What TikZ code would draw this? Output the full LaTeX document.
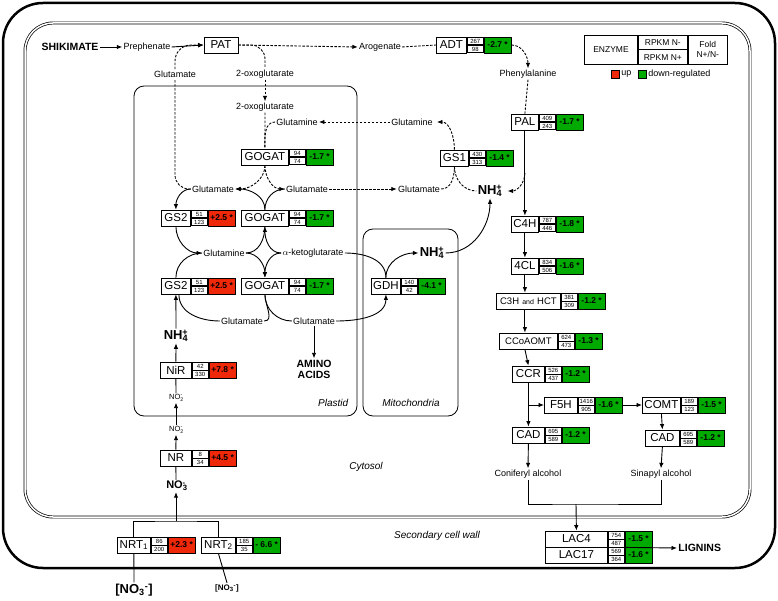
\documentclass[tikz,border=0pt]{standalone}
\usepackage{fontspec}
\setmainfont{Liberation Sans}
\usetikzlibrary{calc,arrows.meta}
\definecolor{up}{RGB}{240,40,10}
\definecolor{dn}{RGB}{0,170,0}
\newcommand\ionx[2]{\textsubscript{#1}\kern-0.45em\textsuperscript{#2}}
\tikzset{
 lbl/.style={font=\fontsize{9}{10}\selectfont, inner sep=1pt},
 big/.style={font=\bfseries\fontsize{13}{14}\selectfont, inner sep=1pt},
 ename/.style={draw, thick, minimum height=16pt, inner sep=0pt, font=\fontsize{11.5}{12}\selectfont},
 numc/.style={draw, minimum height=8pt, inner sep=0pt, font=\fontsize{6}{6}\selectfont},
 foldc/.style={draw, thick, minimum height=16pt, minimum width=27pt, inner sep=0pt, font=\bfseries\fontsize{8.5}{9}\selectfont},
 cx/.style={-{Latex[length=5.5pt,width=4.5pt]}},
 every path/.style={line width=0.9pt},
 dsh/.style={dashed, dash pattern=on 2.5pt off 1.5pt},
 comp/.style={thick, rounded corners=10pt},
 ital/.style={font=\itshape\fontsize{10}{11}\selectfont}
}
\newcommand\enz[9]{%
 \node[ename, minimum width=#4pt, anchor=west] (#1) at (#2,#3) {#5};
 \node[numc, minimum width=16pt, anchor=north west] (#1-a) at (#1.north east) {#6};
 \node[numc, minimum width=16pt, anchor=south west] (#1-b) at (#1.south east) {#7};
 \node[foldc, fill=#9, anchor=north west] (#1-f) at (#1-a.north east) {#8};
}
\begin{document}
\begin{tikzpicture}[x=1pt,y=-1pt]
\useasboundingbox (0,0) rectangle (778,601);
% frames
\draw[line width=2.5pt, rounded corners=40pt] (3,3) rectangle (775,568);
\draw[double distance=1.5pt, line width=0.7pt, rounded corners=28pt] (25,23) rectangle (750,517);
\draw[comp] (134,86) rectangle (357,416);
\draw[comp] (363,229) rectangle (458,416);
\node[ital, anchor=east] (tpl) at (352,403) {Plastid};
\node[ital] (tmi) at (411,403) {Mitochondria};
\node[ital] (tcy) at (366,467) {Cytosol};
\node[ital] (tsw) at (437,536) {Secondary cell wall};
% legend
\node[draw, minimum width=53pt, minimum height=29pt, inner sep=0pt, font=\fontsize{8.5}{9}\selectfont, anchor=north west] (le) at (584,35) {ENZYME};
\node[draw, minimum width=49pt, minimum height=14.5pt, inner sep=0pt, font=\fontsize{8.5}{9}\selectfont, anchor=north west] (l1) at (le.north east) {RPKM N-};
\node[draw, minimum width=49pt, minimum height=14.5pt, inner sep=0pt, font=\fontsize{8.5}{9}\selectfont, anchor=south west] (l2) at (le.south east) {RPKM N+};
\node[draw, minimum width=39pt, minimum height=29pt, inner sep=0pt, font=\fontsize{8.5}{10}\selectfont, align=center, anchor=north west] (l3) at (l1.north east) {Fold\\N+/N-};
\node[draw, fill=up, minimum size=8pt, inner sep=0pt] (lr) at (615.5,74.5) {};
\node[lbl, anchor=west] (lu) at (lr.east) {up};
\node[draw, fill=dn, minimum size=8pt, inner sep=0pt] (lg) at (642.5,74.5) {};
\node[lbl, anchor=west] (ld) at (lg.east) {down-regulated};
% labels
\node[font=\bfseries\fontsize{10.5}{11}\selectfont, inner sep=1pt] (shk) at (70,47) {SHIKIMATE};
\node[lbl] (pre) at (147,47) {Prephenate};
\node[draw, thick, minimum width=34pt, minimum height=16pt, inner sep=0pt, font=\fontsize{11.5}{12}\selectfont] (pat) at (221,45) {PAT};
\node[lbl] (arog) at (380,47) {Arogenate};
\node[lbl] (glt) at (175,74) {Glutamate};
\node[lbl] (ox1) at (265,74) {2-oxoglutarate};
\node[lbl] (ox2) at (265,107) {2-oxoglutarate};
\node[lbl] (phe) at (528,74) {Phenylalanine};
\node[lbl] (gln1) at (297,122) {Glutamine};
\node[lbl] (gln2) at (412,122) {Glutamine};
\node[lbl] (glu1) at (213,189) {Glutamate};
\node[lbl] (glu2) at (307,189) {Glutamate};
\node[lbl] (glu3) at (419,189) {Glutamate};
\node[big] (nh) at (490,191) {NH\ionx{4}{+}};
\node[lbl] (gln) at (224,253) {Glutamine};
\node[lbl] (ak) at (313,253) {$\alpha$-ketoglutarate};
\node[big] (nhm) at (432,253) {NH\ionx{4}{+}};
\node[lbl] (glu4) at (242,321) {Glutamate};
\node[lbl] (glu5) at (314,321) {Glutamate};
\node[font=\bfseries\fontsize{10.5}{11}\selectfont, align=center, inner sep=1pt] (aa) at (314,369) {AMINO\\ACIDS};
\node[big] (nhl) at (176,336) {NH\ionx{4}{+}};
\node[font=\fontsize{7.5}{8}\selectfont, inner sep=1pt] (no2a) at (176,398) {NO\ionx{2}{-}};
\node[font=\fontsize{7.5}{8}\selectfont, inner sep=1pt] (no2b) at (176,430) {NO\ionx{2}{-}};
\node[font=\bfseries\fontsize{11}{12}\selectfont, inner sep=1pt] (no3) at (176,486) {NO\ionx{3}{-}};
\node[font=\bfseries\fontsize{13}{14}\selectfont, inner sep=1pt] (nin1) at (134,590) {[NO\textsubscript{3}\textsuperscript{-}]};
\node[font=\bfseries\fontsize{8}{9}\selectfont, inner sep=1pt] (nin2) at (227,588) {[NO\textsubscript{3}\textsuperscript{-}]};
\node[lbl] (con) at (528,474) {Coniferyl alcohol};
\node[lbl] (sin) at (661,474) {Sinapyl alcohol};
\node[font=\bfseries\fontsize{10.5}{11}\selectfont, inner sep=1pt, anchor=west] (lig) at (677,548) {LIGNINS};
% enzymes
\enz{adt}{436}{45}{30}{ADT}{267}{98}{-2.7 *}{dn}
\enz{pal}{511}{122}{27}{PAL}{409}{243}{-1.7 *}{dn}
\enz{gs1}{440}{158}{28}{GS1}{430}{313}{-1.4 *}{dn}
\enz{c4h}{511}{224}{27}{C4H}{787}{446}{-1.8 *}{dn}
\enz{fcl}{511}{266}{27}{4CL}{834}{506}{-1.6 *}{dn}
\enz{c3h}{496}{301}{64}{{\fontsize{9.5}{10}\selectfont C3H} {\fontsize{7}{8}\selectfont and} {\fontsize{9.5}{10}\selectfont HCT}}{381}{309}{-1.2 *}{dn}
\enz{cco}{499}{341}{58}{{\fontsize{9.5}{10}\selectfont CCoAOMT}}{624}{473}{-1.3 *}{dn}
\enz{ccr}{512}{374}{32}{CCR}{526}{437}{-1.2 *}{dn}
\enz{f5h}{544}{405}{33}{F5H}{1416}{905}{-1.6 *}{dn}
\enz{comt}{642}{405}{38}{COMT}{189}{123}{-1.5 *}{dn}
\enz{cada}{512}{435}{32}{CAD}{695}{589}{-1.2 *}{dn}
\enz{cadb}{645}{438}{34}{CAD}{695}{589}{-1.2 *}{dn}
\enz{laca}{545}{539}{62}{LAC4}{754}{487}{-1.5 *}{dn}
\enz{lacb}{545}{555}{62}{LAC17}{569}{364}{-1.6 *}{dn}
\enz{gone}{241}{157}{47}{GOGAT}{94}{74}{-1.7 *}{dn}
\enz{gtwo}{241}{218}{47}{GOGAT}{94}{74}{-1.7 *}{dn}
\enz{gthr}{241}{286}{47}{GOGAT}{94}{74}{-1.7 *}{dn}
\enz{gsa}{161}{218}{29}{GS2}{51}{123}{+2.5 *}{up}
\enz{gsb}{161}{286}{29}{GS2}{51}{123}{+2.5 *}{up}
\enz{gdh}{371}{286}{29}{GDH}{140}{42}{-4.1 *}{dn}
\enz{nir}{160}{370}{31}{NiR}{42}{330}{+7.8 *}{up}
\enz{nr}{160}{458}{31}{NR}{8}{34}{+4.5 *}{up}
\enz{nrta}{117}{545}{33}{NRT\textsubscript{1}}{86}{200}{+2.3 *}{up}
\enz{nrtb}{201}{545}{34}{NRT\textsubscript{2}}{185}{35}{- 6.6 *}{dn}
\coordinate (jn) at (176,521);
\coordinate (jl) at (576,504);
% connectors
\draw[cx] (shk.east) -- (pre.west);
\draw[cx] (pre.east) -- (pat.west);
\draw[cx,dsh] (pat.east) -- (arog.west);
\draw[dsh] (arog.east) -- (adt.west);
\draw[cx,dsh] (adt-f.east) to[out=0,in=90] (phe.north);
\draw[dsh] (phe.south) -- (pal.north);
\draw[dsh, rounded corners=14pt] (glu1.west) -| (glt.south);
\draw[cx, dsh, rounded corners=16pt] (glt.north) |- (pat.west);
\draw[dsh, rounded corners=14pt] (pat.east) -| (ox1.north);
\draw[cx,dsh] (ox1.south) -- (ox2.north);
\draw[dsh] (ox2.south) -- (gone.north);
\draw[dsh] (gln1.west) to[out=180,in=90] (gone.north);
\draw[cx,dsh] (gln2.west) -- (gln1.east);
\draw[cx,dsh] (gs1.north) to[out=90,in=0] ([xshift=3pt]gln2.east);
\draw[cx,dsh] (gone.south) to[out=-90,in=0] (glu1.east);
\draw[cx,dsh] (gone.south) to[out=-90,in=180] (glu2.west);
\draw[cx] (gtwo.north) to[out=90,in=0] (glu1.east);
\draw (gtwo.north) to[out=90,in=180] (glu2.west);
\draw[cx,dsh] (glu2.east) -- (glu3.west);
\draw[dsh] (glu3.east) to[out=0,in=-90] (gs1.south);
\draw[dsh] (gs1.south) to[out=-90,in=180] (nh.west);
\draw[cx,dsh] ($(pal.south)!0.5!(c4h.north)$) to[out=-90,in=0] ([xshift=4pt]nh.east);
\draw[cx] (pal.south) -- (c4h.north);
\draw[cx] (c4h.south) -- (fcl.north);
\draw[cx] (fcl.south) -- (fcl.south |- c3h.north);
\draw[cx] (fcl.south |- c3h.south) -- (fcl.south |- cco.north);
\draw[cx] (fcl.south |- cco.south) -- (ccr.north);
\draw[cx] (ccr.south) -- (cada.north);
\draw[cx] (ccr.south |- f5h.west) -- (f5h.west);
\draw[cx] (f5h-f.east) -- (comt.west);
\draw[cx] (comt.south) -- (cadb.north);
\draw[cx] (cada.south) -- (con.north);
\draw[cx] (cadb.south) -- (sin.north);
\draw (con.south) |- (jl) -| (sin.south);
\draw[cx] (jl) -- (laca.north);
\draw[cx] (laca-f.south west) -- (lig.west);
\draw[cx] (glu1.west) to[out=180,in=90] (gsa.north);
\draw[cx] (gsa.south) to[out=-90,in=180] (gln.west);
\draw (gsb.north) to[out=90,in=180] (gln.west);
\draw (gln.east) to[out=0,in=-90] (gtwo.south);
\draw[cx] (ak.west) to[out=180,in=-90] (gtwo.south);
\draw[cx] (gln.east) to[out=0,in=90] (gthr.north);
\draw[cx] (ak.west) to[out=180,in=90] (gthr.north);
\draw (ak.east) to[out=0,in=90] (gdh.north);
\draw[cx] (gdh.north) to[out=90,in=180] (nhm.west);
\draw[cx] (nhm.east) to[out=0,in=-90] (nh.south);
\draw (gthr.south) to[out=-90,in=0] (glu4.east);
\draw (gthr.south) to[out=-90,in=180] (glu5.west);
\draw (glu4.west) to[out=180,in=-90] ([xshift=3pt]gsb.south);
\draw[cx] (glu5.east) to[out=0,in=-90] (gdh.south);
\draw[cx] (glu5.south) -- (aa.north);
\draw[cx] (nhl.north) -- (gsb.south);
\draw[cx] (nir.north) -- (nhl.south);
\draw (no2a.north) -- (nir.south);
\draw[cx] (no2b.north) -- (no2a.south);
\draw[cx] (nr.north) -- (no2b.south);
\draw (no3.north) -- (nr.south);
\draw (nrta.north) |- (jn) -| (nrtb.north);
\draw[cx] (jn) -- (no3.south);
\draw (nrta.south) -- (nin1.north);
\draw (nrtb.south) -- (nin2.north);
\end{tikzpicture}
\end{document}
